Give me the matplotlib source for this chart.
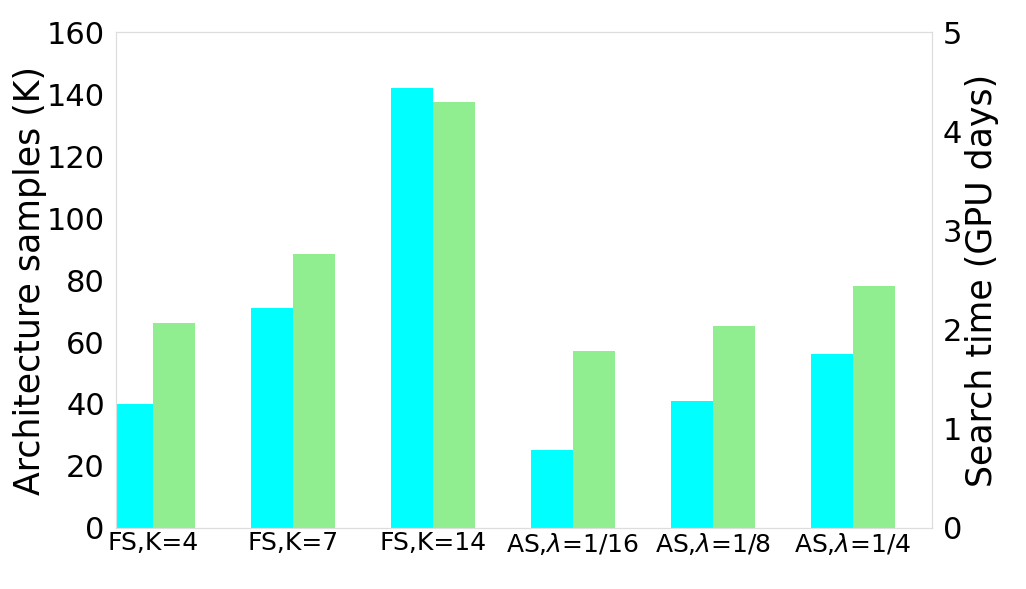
import numpy as np
import matplotlib
matplotlib.use("Agg")
import matplotlib.pyplot as plt

# settings on the x axis
labels = ['FS,K=4', 'FS,K=7', 'FS,K=14',
          r'AS,$\lambda$=1/16', r'AS,$\lambda$=1/8', r'AS,$\lambda$=1/4']
# architecture samples (K), left axis
samples = [40, 71, 142, 25, 41, 56]
# search time (GPU days), right axis
gpu_days = [2.07, 2.76, 4.29, 1.78, 2.04, 2.44]

ind = np.arange(len(labels))
width = 0.3
grey = '#dddddd'

fig = plt.figure(figsize=(10.26, 5.89), dpi=100)
ax = fig.add_axes([0.113, 0.1036, 0.795, 0.842])
ax.bar(ind - width / 2, samples, width, color='#00ffff')
ax.set_ylim(0, 160)
ax.set_xlim(-0.265, 5.56)
ax.set_yticks(np.arange(0, 161, 20))
ax.set_xticks(ind)
ax.set_xticklabels(labels, fontsize=18)
ax.set_ylabel('Architecture samples (K)', fontsize=25, labelpad=0)
ax.tick_params(axis='y', labelsize=22, length=0, pad=8)
ax.tick_params(axis='x', length=0, pad=2)

ax2 = ax.twinx()
ax2.bar(ind + width / 2, gpu_days, width, color='lightgreen')
ax2.set_ylim(0, 5)
ax2.set_yticks(range(6))
ax2.set_ylabel('Search time (GPU days)', fontsize=25, labelpad=2)
ax2.tick_params(axis='y', labelsize=22, length=0, pad=8)

for a in (ax, ax2):
    for s in a.spines.values():
        s.set_color(grey)

fig.savefig('out.png', dpi=100)
